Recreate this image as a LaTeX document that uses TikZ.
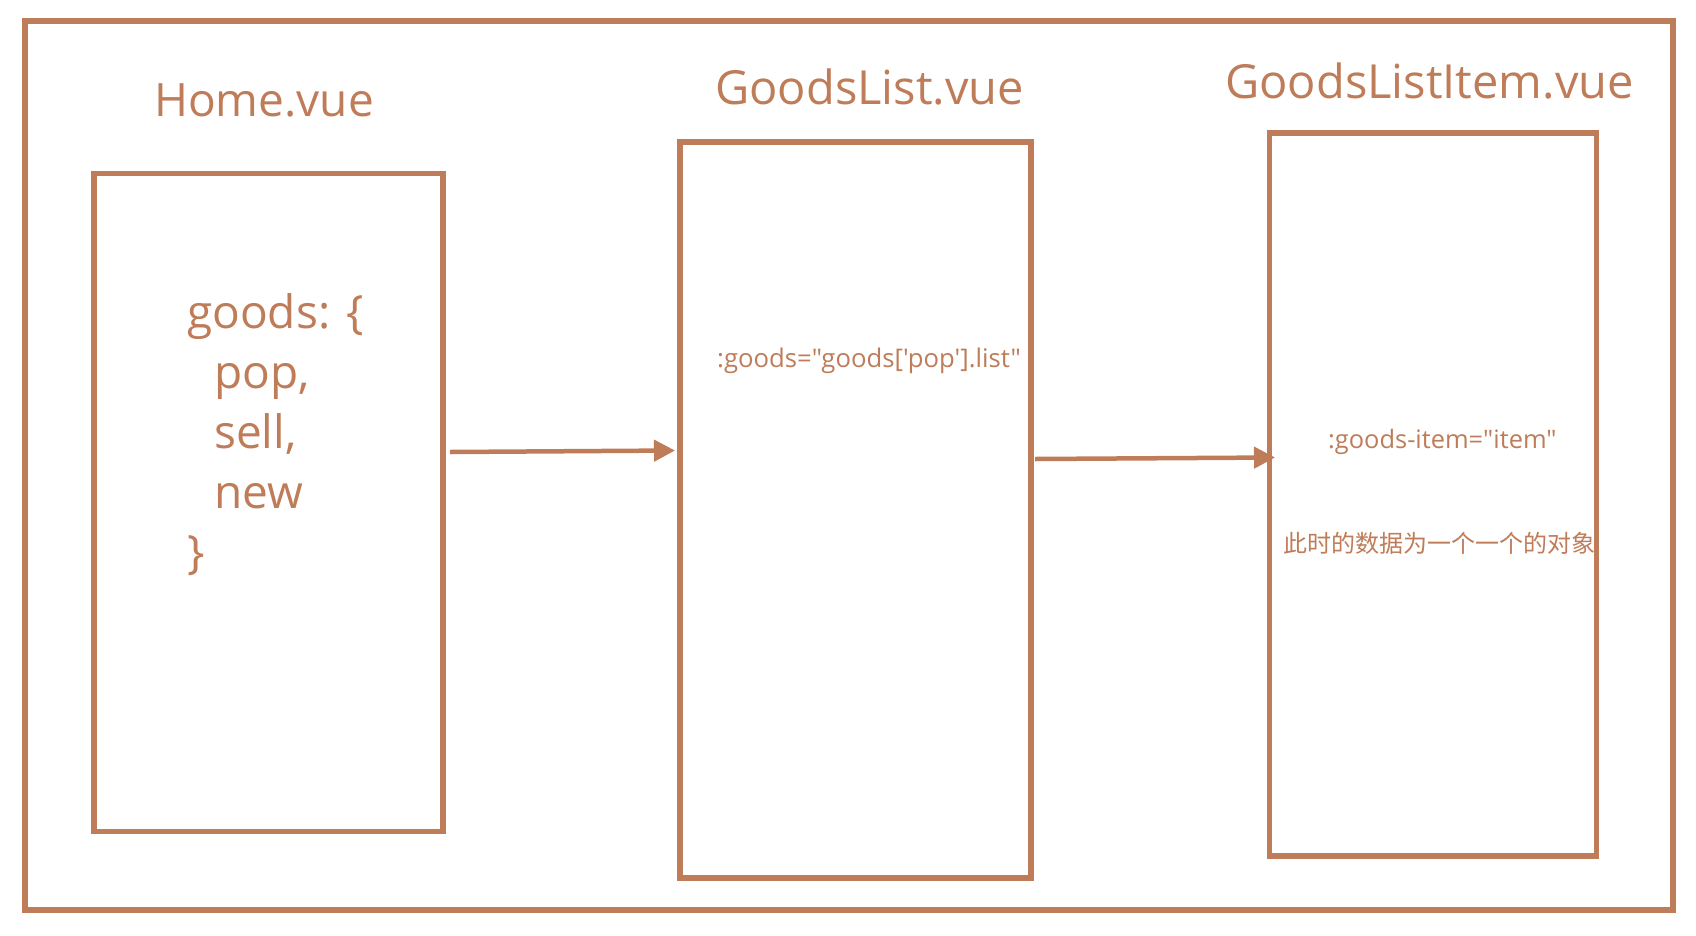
\documentclass[tikz,border=0pt]{standalone}
\usepackage{fontspec}
\setmainfont{Open Sans}[Ligatures=TeXOff]
\newfontfamily\cjk{Noto Sans CJK SC}
\usetikzlibrary{arrows.meta}
\definecolor{vue}{RGB}{191,124,88}
\begin{document}
\begin{tikzpicture}[x=1pt,y=-1pt,
  frame/.style={draw=vue,line width=5.5pt,rectangle,inner sep=0pt,line join=miter},
  title/.style={text=vue,anchor=base west,inner sep=0pt},
  code/.style={text=vue,anchor=base west,inner sep=0pt},
  flow/.style={draw=vue,line width=4.5pt,-{Triangle[length=21pt,width=21pt]}}]
\useasboundingbox (0,0) rectangle (1696,935);
\fill[white] (0,0) rectangle (1696,935);
% outer frame
\node[frame,minimum width=1648pt,minimum height=889pt] (outer) at (849,465.5) {};
% boxes
\node[frame,minimum width=349pt,minimum height=658pt] (home) at (268.5,502.5) {};
\node[frame,minimum width=351pt,minimum height=736pt] (list) at (855.5,510) {};
\node[frame,minimum width=327pt,minimum height=723pt] (item) at (1433,494.5) {};
% titles
\node[title,font=\fontsize{46}{50}\selectfont] (t1) at (154,116) {Home.vue};
\node[title,font=\fontsize{47}{50}\selectfont] (t2) at (715,104) {GoodsList.vue};
\node[title,font=\fontsize{47}{50}\selectfont] (t3) at (1225,98) {GoodsListItem.vue};
% home content
\node[code,font=\fontsize{46}{50}\selectfont] (g1) at (187,328) {goods: \{};
\node[code,font=\fontsize{46}{50}\selectfont] (g2) at (214,388) {pop,};
\node[code,font=\fontsize{46}{50}\selectfont] (g3) at (214,448) {sell,};
\node[code,font=\fontsize{46}{50}\selectfont] (g4) at (214,508) {new};
\node[code,font=\fontsize{46}{50}\selectfont] (g5) at (187,568) {\}};
% list content
\node[code,font=\fontsize{25.7}{28}\selectfont] (p1) at (717,367) {:goods="goods['pop'].list"};
% item content
\node[code,font=\fontsize{25.4}{28}\selectfont] (p2) at (1328,448) {:goods-item="item"};
\node[code,font=\cjk\fontsize{24}{28}\selectfont] (p3) at (1283,552) {此时的数据为一个一个的对象};
% arrows
\coordinate (a1s) at (450,452);
\coordinate (a1e) at (675,450.5);
\coordinate (a2s) at (1035,459);
\coordinate (a2e) at (1275,457.5);
\draw[flow] (a1s) -- (a1e);
\draw[flow] (a2s) -- (a2e);
\end{tikzpicture}
\end{document}
